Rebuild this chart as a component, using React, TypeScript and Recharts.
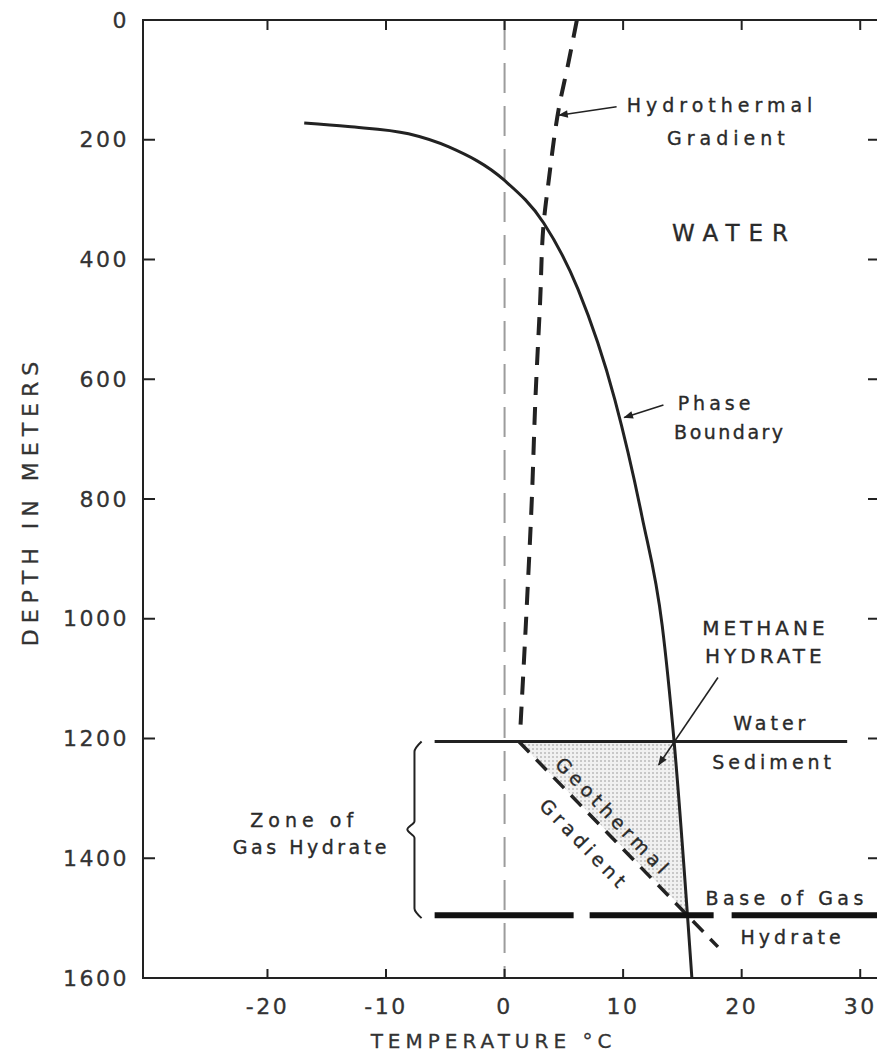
import { ComposedChart, Line, Area, XAxis, YAxis, ReferenceDot, ReferenceLine, ReferenceArea } from 'recharts';

// temperature (°C) vs depth (m)
const X_TICKS = [-20, -10, 0, 10, 20, 30];
const Y_TICKS = [0, 200, 400, 600, 800, 1000, 1200, 1400, 1600];
const Y_TICKS_RIGHT = [200, 400, 600, 800, 1000, 1200, 1400];

const PHASE_BOUNDARY = [
  { t: -16.9, d: 172 },
  { t: -13.2, d: 178 },
  { t: -8.1, d: 190 },
  { t: -4.7, d: 212 },
  { t: 0, d: 268 },
  { t: 3.3, d: 339 },
  { t: 6.2, d: 450 },
  { t: 9.3, d: 634 },
  { t: 11.6, d: 830 },
  { t: 13.3, d: 1012 },
  { t: 14.3, d: 1205 },
  { t: 15.8, d: 1600 },
];

const HYDROTHERMAL = [
  { t: 6.1, d: 0 },
  { t: 5.4, d: 70 },
  { t: 4.6, d: 145 },
  { t: 3.7, d: 272 },
  { t: 3.3, d: 339 },
  { t: 3.0, d: 470 },
  { t: 2.6, d: 634 },
  { t: 2.3, d: 800 },
  { t: 1.9, d: 968 },
  { t: 1.3, d: 1195 },
];

const GEOTHERMAL = [
  { t: 1.2, d: 1205 },
  { t: 18.0, d: 1548 },
];

const WATER_SEDIMENT = [
  { t: -5.9, d: 1205 },
  { t: 28.9, d: 1205 },
];

const BASE_OF_HYDRATE = [
  { t: -5.9, d: 1495 },
  { t: 31.5, d: 1495 },
];

const ZERO_LINE = [
  { t: 0, d: 0 },
  { t: 0, d: 1600 },
];

// stippled wedge between sea floor, geothermal gradient and phase boundary
const HYDRATE_ZONE = [
  { t: 1.2, r: [1205, 1205] },
  { t: 14.3, r: [1205, 1469] },
  { t: 15.4, r: [1495, 1495] },
];

const ZONE_BRACE = [
  { t: -7.0, d: 1205 },
  { t: -7.6, d: 1222 },
  { t: -7.6, d: 1338 },
  { t: -8.2, d: 1352 },
  { t: -7.6, d: 1366 },
  { t: -7.6, d: 1484 },
  { t: -7.0, d: 1500 },
];

const INK = '#222';
const FONT = '"DejaVu Sans", Verdana, sans-serif';

const CHART_W = 880;
const CHART_H = 1061;
const MARGIN_TOP = 20;
const X_AXIS_H = 83;
const Y_AXIS_W = 143;
const PLOT_H = CHART_H - MARGIN_TOP - X_AXIS_H;
const PLOT_W = CHART_W - 1 - 1 - Y_AXIS_W;

const note = (key: string, text: string, t: number, d: number, opts: any = {}) => (
  <ReferenceDot
    key={key}
    x={t}
    y={d}
    r={0}
    ifOverflow="visible"
    shape={(p: any) => (
      <text
        x={p.cx}
        y={p.cy}
        textAnchor={opts.anchor ?? 'middle'}
        dominantBaseline="central"
        fontFamily={FONT}
        fontSize={opts.size ?? 19}
        letterSpacing={opts.spacing ?? 4}
        fill="#2a2a2a"
        stroke="#2a2a2a"
        strokeWidth={0.35}
        transform={opts.rotate ? `rotate(${opts.rotate} ${p.cx} ${p.cy})` : undefined}
      >
        {text}
      </text>
    )}
  />
);

const arrow = (key: string, from: [number, number], to: [number, number]) => (
  <ReferenceLine
    key={key}
    segment={[{ x: from[0], y: from[1] }, { x: to[0], y: to[1] }]}
    shape={(p: any) => (
      <line x1={p.x1} y1={p.y1} x2={p.x2} y2={p.y2} stroke={INK} strokeWidth={1.6} markerEnd="url(#arrowHead)" />
    )}
  />
);

const tickText = {
  fontFamily: FONT,
  fontSize: 22,
  letterSpacing: 2.5,
  fill: '#333',
  stroke: '#333',
  strokeWidth: 0.3,
};

// bottom axis tick: inward mark, label below, and the matching inward mark on the top frame
const BottomTick = ({ x, y, payload }: any) => (
  <g>
    <line x1={x} y1={y} x2={x} y2={y - 9} stroke={INK} strokeWidth={2} />
    <line x1={x} y1={y - PLOT_H} x2={x} y2={y - PLOT_H + 10} stroke={INK} strokeWidth={2} />
    <text x={x} y={y + 36} textAnchor="middle" {...tickText}>
      {payload.value}
    </text>
  </g>
);

// left axis tick; the 0 tick also carries the top edge of the frame
const LeftTick = ({ x, y, payload }: any) => (
  <g>
    {payload.value > 0 && payload.value < 1600 && (
      <line x1={x} y1={y} x2={x + 12} y2={y} stroke={INK} strokeWidth={2} />
    )}
    {payload.value === 0 && <line x1={x - 1} y1={y} x2={x + PLOT_W + 2} y2={y} stroke={INK} strokeWidth={2} />}
    <text x={x - 14} y={y} textAnchor="end" dominantBaseline="central" {...tickText}>
      {payload.value}
    </text>
  </g>
);

const RightTick = ({ x, y }: any) => <line x1={x} y1={y} x2={x - 10} y2={y} stroke={INK} strokeWidth={2} />;

export default function App() {
  return (
    <div style={{ position: 'absolute', left: 0, top: 0, width: 877, height: 1061, overflow: 'hidden', background: '#fff' }}>
      <ComposedChart width={CHART_W} height={CHART_H} margin={{ top: MARGIN_TOP, right: 1, bottom: 0, left: 0 }}>
        <defs>
          <pattern id="stipple" width="4" height="4" patternUnits="userSpaceOnUse">
            <rect width="4" height="4" fill="#f1f1f1" />
            <circle cx="1" cy="1" r="0.8" fill="#949494" />
          </pattern>
          <marker id="arrowHead" viewBox="0 0 10 10" refX="9" refY="5" markerWidth="7" markerHeight="6" orient="auto">
            <path d="M0,1 L10,5 L0,9 z" fill={INK} />
          </marker>
        </defs>

        <XAxis
          type="number"
          dataKey="t"
          domain={[-30.5, 31.5]}
          allowDataOverflow
          ticks={X_TICKS}
          interval={0}
          height={X_AXIS_H}
          tickSize={0}
          tickMargin={0}
          tickLine={false}
          axisLine={{ stroke: INK, strokeWidth: 2 }}
          tick={BottomTick}
          label={{
            content: (p: any) => {
              const vb = p.viewBox;
              return (
                <text x={vb.x + vb.width / 2 - 17} y={vb.y + 70} textAnchor="middle" fontFamily={FONT} fontSize={20} letterSpacing={5} fill="#333" stroke="#333" strokeWidth={0.3}>
                  TEMPERATURE °C
                </text>
              );
            },
          }}
        />
        <YAxis
          type="number"
          domain={[0, 1600]}
          reversed
          allowDataOverflow
          ticks={Y_TICKS}
          interval={0}
          width={Y_AXIS_W}
          tickSize={0}
          tickMargin={0}
          tickLine={false}
          axisLine={{ stroke: INK, strokeWidth: 2 }}
          tick={LeftTick}
          label={{
            content: (p: any) => {
              const vb = p.viewBox;
              const cx = vb.x + 30;
              const cy = vb.y + vb.height / 2 + 2;
              return (
                <text x={cx} y={cy} textAnchor="middle" dominantBaseline="central" transform={`rotate(-90 ${cx} ${cy})`} fontFamily={FONT} fontSize={22} letterSpacing={6} fill="#333" stroke="#333" strokeWidth={0.3}>
                  DEPTH IN METERS
                </text>
              );
            },
          }}
        />
        <YAxis
          yAxisId="right"
          orientation="right"
          type="number"
          domain={[0, 1600]}
          reversed
          allowDataOverflow
          ticks={Y_TICKS_RIGHT}
          interval={0}
          width={1}
          tickSize={0}
          tickMargin={0}
          tickLine={false}
          axisLine={{ stroke: INK, strokeWidth: 2 }}
          tick={RightTick}
        />

        <ReferenceArea x1={-30.5} x2={31.5} y1={0} y2={1600} fill="none" stroke={INK} strokeWidth={2} ifOverflow="visible" />

        <Area
          data={HYDRATE_ZONE}
          dataKey="r"
          type="linear"
          stroke="none"
          fill="url(#stipple)"
          fillOpacity={1}
          isAnimationActive={false}
          dot={false}
          activeDot={false}
        />
        <Line data={ZERO_LINE} dataKey="d" type="linear" stroke="#9c9c9c" strokeWidth={2} strokeDasharray="30 13" dot={false} activeDot={false} isAnimationActive={false} />
        <Line data={HYDROTHERMAL} dataKey="d" type="monotoneY" stroke={INK} strokeWidth={4} strokeDasharray="18 12" dot={false} activeDot={false} isAnimationActive={false} />
        <Line data={PHASE_BOUNDARY} dataKey="d" type="monotone" stroke={INK} strokeWidth={3} dot={false} activeDot={false} isAnimationActive={false} />
        <Line data={GEOTHERMAL} dataKey="d" type="linear" stroke={INK} strokeWidth={3.5} strokeDasharray="15 10" dot={false} activeDot={false} isAnimationActive={false} />
        <Line data={WATER_SEDIMENT} dataKey="d" type="linear" stroke={INK} strokeWidth={3} dot={false} activeDot={false} isAnimationActive={false} />
        <Line data={BASE_OF_HYDRATE} dataKey="d" type="linear" stroke="#111" strokeWidth={6} strokeDasharray="139 16 124 18 300" dot={false} activeDot={false} isAnimationActive={false} />
        <Line data={ZONE_BRACE} dataKey="d" type="monotoneY" stroke={INK} strokeWidth={2} dot={false} activeDot={false} isAnimationActive={false} />

        {arrow('a-hydro', [9.45, 145], [4.6, 159])}
        {arrow('a-phase', [13.4, 643], [10.1, 664])}
        {arrow('a-methane', [18.0, 1098], [13.0, 1244])}

        {note('n1', 'Hydrothermal', 10.3, 142, { anchor: 'start', spacing: 5 })}
        {note('n2', 'Gradient', 13.7, 197, { anchor: 'start', spacing: 5 })}
        {note('n3', 'WATER', 19.4, 356, { size: 23, spacing: 9 })}
        {note('n4', 'Phase', 14.6, 639, { anchor: 'start' })}
        {note('n5', 'Boundary', 14.3, 688, { anchor: 'start', spacing: 2.5 })}
        {note('n6', 'METHANE', 22.0, 1015, { size: 20, spacing: 4 })}
        {note('n7', 'HYDRATE', 22.0, 1063, { size: 20, spacing: 4 })}
        {note('n8', 'Water', 22.5, 1174)}
        {note('n9', 'Sediment', 22.7, 1239)}
        {note('n10', 'Base of Gas', 23.8, 1466, { spacing: 4.5 })}
        {note('n11', 'Hydrate', 24.3, 1531)}
        {note('n12', 'Zone of', -16.9, 1336, { spacing: 5 })}
        {note('n13', 'Gas Hydrate', -16.3, 1382, { spacing: 3.5 })}
        {note('n14', 'Geothermal', 9.2, 1331, { rotate: 46, spacing: 4.5 })}
        {note('n15', 'Gradient', 6.75, 1377, { rotate: 46, spacing: 4.5 })}
      </ComposedChart>
    </div>
  );
}
